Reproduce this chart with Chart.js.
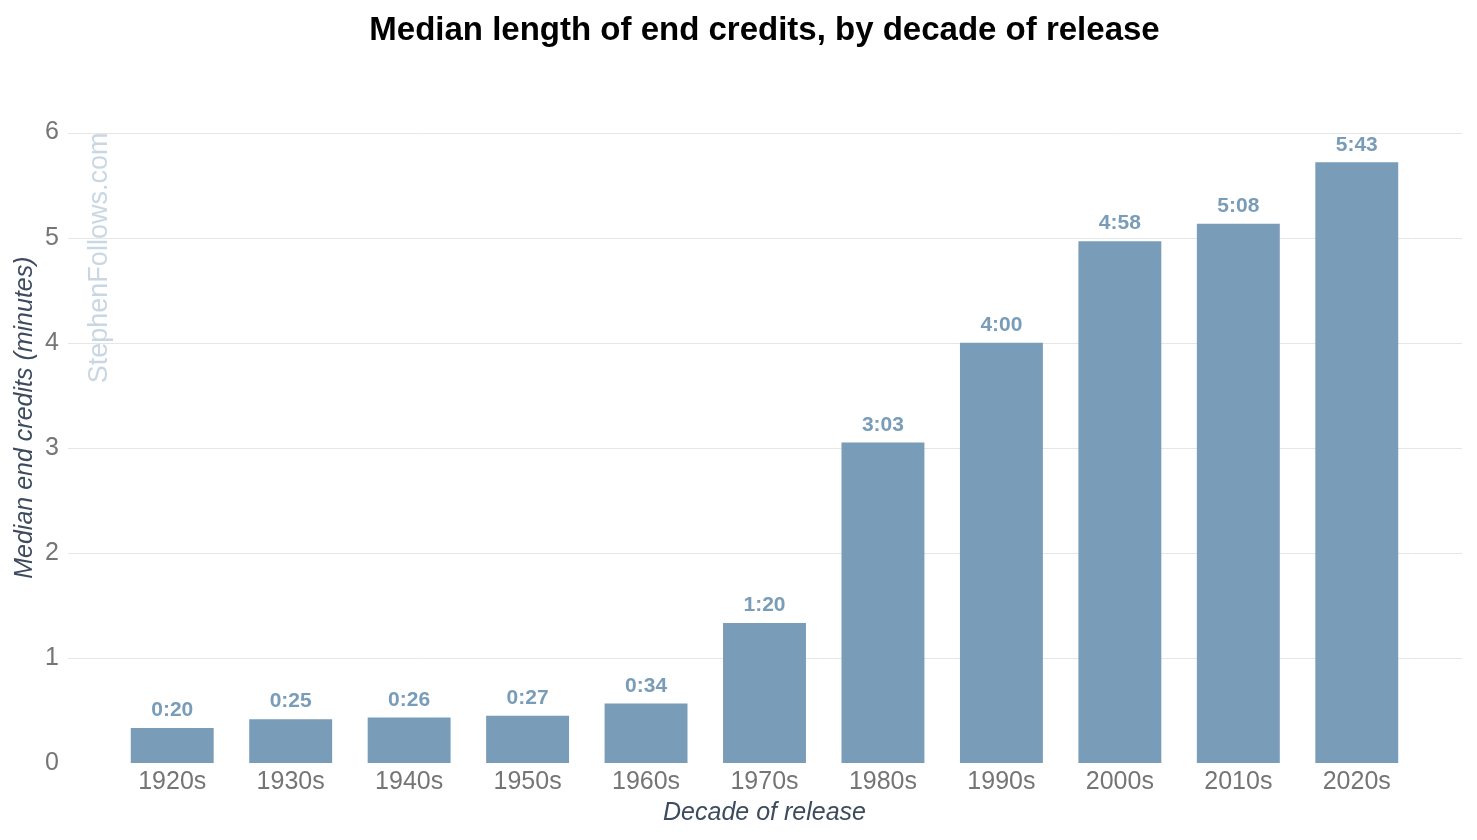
<!DOCTYPE html>
<html>
<head>
<meta charset="utf-8">
<script src="https://cdn.jsdelivr.net/npm/chart.js@4"></script>
<style>
    html, body { margin: 0; padding: 0; background: #fff; }
    #wrap { width: 1477px; height: 840px; }
</style>
</head>
<body>
<div id="wrap"><canvas id="creditsChart"></canvas></div>
<script>
// Data
const decades = ['1920s', '1930s', '1940s', '1950s', '1960s', '1970s', '1980s', '1990s', '2000s', '2010s', '2020s'];
const medianMinutes = [0.333, 0.417, 0.433, 0.45, 0.567, 1.333, 3.05, 4.0, 4.967, 5.133, 5.717];
const valueLabels = ['0:20', '0:25', '0:26', '0:27', '0:34', '1:20', '3:03', '4:00', '4:58', '5:08', '5:43'];
const yTicks = [0, 1, 2, 3, 4, 5, 6];

const BAR_COLOR = '#799cb8';
const FONT = '"Liberation Sans", Arial, sans-serif';

// Horizontal grid lines run a bit wider than the bar area
const wideGrid = {
    id: 'wideGrid',
    beforeDatasetsDraw(chart) {
        const { ctx, chartArea, scales } = chart;
        ctx.save();
        ctx.strokeStyle = '#e6e6e6';
        ctx.lineWidth = 1;
        yTicks.forEach(t => {
            if (t === 0) return;
            const y = Math.round(scales.y.getPixelForValue(t)) + 0.5;
            ctx.beginPath();
            ctx.moveTo(chartArea.left - 45, y);
            ctx.lineTo(chartArea.right + 46, y);
            ctx.stroke();
        });
        ctx.restore();
    }
};

// Value labels above bars, y-axis title and watermark
const barLabels = {
    id: 'barLabels',
    afterDatasetsDraw(chart) {
        const { ctx, chartArea } = chart;
        const meta = chart.getDatasetMeta(0);
        ctx.save();
        ctx.fillStyle = BAR_COLOR;
        ctx.font = 'bold 21px ' + FONT;
        ctx.textAlign = 'center';
        ctx.textBaseline = 'bottom';
        meta.data.forEach((bar, i) => {
            ctx.fillText(valueLabels[i], bar.x, bar.y - 7);
        });
        ctx.restore();

        // y-axis title (sits a little above the axis centre in the original)
        ctx.save();
        ctx.translate(chartArea.left - 88, chartArea.top + 285);
        ctx.rotate(-Math.PI / 2);
        ctx.fillStyle = '#3d4b5e';
        ctx.font = 'italic 25px ' + FONT;
        ctx.textAlign = 'center';
        ctx.textBaseline = 'middle';
        ctx.fillText('Median end credits (minutes)', 0, 0);
        ctx.restore();

        ctx.save();
        ctx.translate(chartArea.left - 13, chartArea.top);
        ctx.rotate(-Math.PI / 2);
        ctx.fillStyle = '#c9d7e3';
        ctx.font = '27px ' + FONT;
        ctx.textAlign = 'right';
        ctx.textBaseline = 'middle';
        ctx.fillText('StephenFollows.com', 0, 0);
        ctx.restore();
    }
};

new Chart(document.getElementById('creditsChart'), {
    type: 'bar',
    data: {
        labels: decades,
        datasets: [{
            data: medianMinutes,
            backgroundColor: BAR_COLOR,
            borderWidth: 0,
            categoryPercentage: 1.0,
            barPercentage: 0.7
        }]
    },
    options: {
        responsive: true,
        maintainAspectRatio: false,
        animation: false,
        layout: { padding: { left: 9, right: 61, top: 0, bottom: 0 } },
        plugins: {
            legend: { display: false },
            tooltip: { enabled: false },
            title: {
                display: true,
                text: 'Median length of end credits, by decade of release',
                color: '#000',
                fullSize: false,
                font: { family: FONT, size: 33, weight: 'bold' },
                padding: { top: 11, bottom: 82 }
            }
        },
        scales: {
            x: {
                grid: { display: false },
                border: { display: false },
                afterFit(scale) { scale.height = 77; },
                ticks: {
                    color: '#757575',
                    font: { family: FONT, size: 25 },
                    padding: -4
                },
                title: {
                    display: true,
                    text: 'Decade of release',
                    color: '#3d4b5e',
                    font: { family: FONT, size: 25, style: 'italic' },
                    padding: { top: 0, bottom: 12 }
                }
            },
            y: {
                min: 0,
                max: 6,
                grid: { display: false },
                border: { display: false },
                afterFit(scale) { scale.width = 104; },
                afterBuildTicks(scale) {
                    scale.ticks = yTicks.map(v => ({ value: v }));
                },
                ticks: {
                    color: '#757575',
                    font: { family: FONT, size: 25 },
                    padding: 46
                }
            }
        }
    },
    plugins: [wideGrid, barLabels]
});
</script>
</body>
</html>
